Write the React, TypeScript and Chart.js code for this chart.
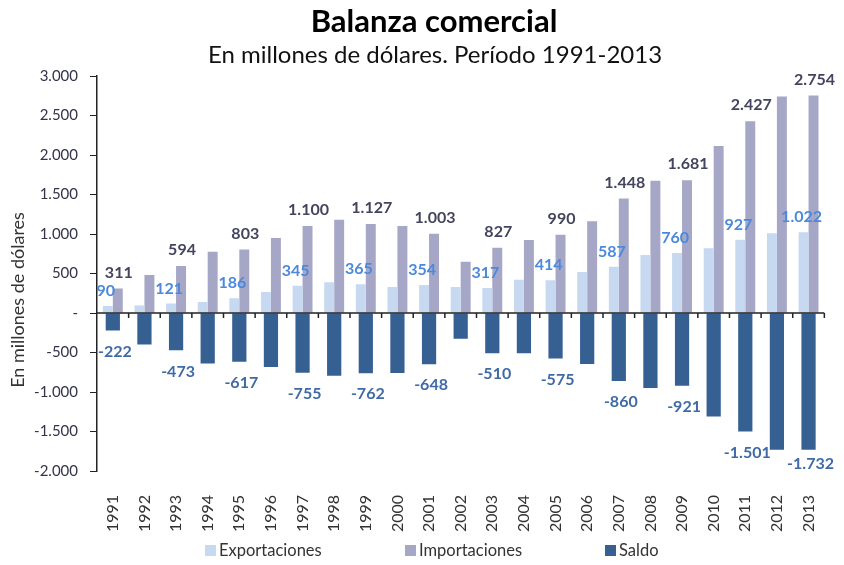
import React, { useEffect, useRef } from "react";
import { Chart, registerables } from "chart.js";

Chart.register(...registerables);

const years = ["1991","1992","1993","1994","1995","1996","1997","1998","1999","2000","2001","2002","2003","2004","2005","2006","2007","2008","2009","2010","2011","2012","2013"];
const exportaciones = [90,95,121,140,186,265,345,390,365,330,354,330,317,420,414,520,587,735,760,820,927,1010,1022];
const importaciones = [311,480,594,775,803,950,1100,1180,1127,1100,1003,650,827,925,990,1160,1448,1675,1681,2115,2427,2740,2754];
const saldo = [-222,-400,-473,-640,-617,-685,-755,-795,-762,-760,-648,-325,-510,-510,-575,-645,-860,-950,-921,-1310,-1501,-1730,-1732];
const seriesNames = ["Exportaciones", "Importaciones", "Saldo"];
const titleText = "Balanza comercial";
const subtitleText = "En millones de dólares. Período 1991-2013";
const yTitleText = "En millones de dólares";
const yMin = -2000;
const yMax = 3000;
const yStep = 500;

const colExp = "#C6D9F1";
const colImp = "#A6A6C6";
const colSal = "#366092";
const labelColors = ["#4A89DC", "#44445E", "#3F6AA6"];
const FONT = "Lato, 'Open Sans', sans-serif";

function fmt(v: number): string {
  if (v === 0) return "-";
  const neg = v < 0;
  const s = Math.abs(Math.round(v)).toString().replace(/\B(?=(\d{3})+(?!\d))/g, ".");
  return (neg ? "-" : "") + s;
}

const labelPlugin = {
  id: "valueLabels",
  afterDatasetsDraw(chart: any) {
    const ctx = chart.ctx;
    const area = chart.chartArea;
    ctx.save();
    ctx.font = `bold 16px ${FONT}`;
    ctx.textAlign = "center";
    ctx.textBaseline = "middle";
    chart.data.datasets.forEach((ds: any, di: number) => {
      const meta = chart.getDatasetMeta(di);
      meta.data.forEach((bar: any, i: number) => {
        if (i % 2 !== 0) return;
        const v = ds.data[i];
        ctx.fillStyle = labelColors[di];
        let x = bar.x;
        let y = bar.y;
        if (di === 0) { x -= 2; y -= 15; }
        else if (di === 1) { x += 1; y -= 16; }
        else { x += 2; y = Math.min(y + 21, area.bottom - 7); }
        ctx.fillText(fmt(v), x, y);
      });
    });
    ctx.restore();
  },
};

const axisPlugin = {
  id: "zeroAxis",
  afterDatasetsDraw(chart: any) {
    const ctx = chart.ctx;
    const area = chart.chartArea;
    const ys = chart.scales.y;
    const xs = chart.scales.x;
    const y0 = ys.getPixelForValue(0);
    ctx.save();
    ctx.strokeStyle = "#222";
    ctx.lineWidth = 1.5;
    ctx.beginPath();
    ctx.moveTo(area.left, y0);
    ctx.lineTo(area.right, y0);
    const n = xs.ticks.length;
    const w = (area.right - area.left) / n;
    for (let k = 1; k <= n; k++) {
      const x = area.left + k * w;
      ctx.moveTo(x, y0);
      ctx.lineTo(x, y0 + 5);
    }
    ctx.stroke();
    ctx.restore();
  },
};

const decorPlugin = {
  id: "decor",
  afterDraw(chart: any) {
    const ctx = chart.ctx;
    // titles
    ctx.save();
    ctx.textAlign = "center";
    ctx.textBaseline = "middle";
    ctx.fillStyle = "#000";
    ctx.font = `bold 31px ${FONT}`;
    ctx.fillText(titleText, 434, 22);
    ctx.fillStyle = "#111";
    ctx.font = `24px ${FONT}`;
    ctx.fillText(subtitleText, 435, 55);
    ctx.restore();

    // y axis title
    ctx.save();
    ctx.translate(18, 300);
    ctx.rotate(-Math.PI / 2);
    ctx.font = `18px ${FONT}`;
    ctx.fillStyle = "#333";
    ctx.textAlign = "center";
    ctx.textBaseline = "middle";
    ctx.fillText(yTitleText, 0, 0);
    ctx.restore();

    // legend
    ctx.save();
    const colors = [colExp, colImp, colSal];
    ctx.font = `16.5px ${FONT}`;
    ctx.textBaseline = "middle";
    ctx.textAlign = "left";
    const ly = chart.height - 14;
    seriesNames.forEach((name, i) => {
      const bx = 205 + i * 200;
      ctx.fillStyle = colors[i];
      ctx.fillRect(bx, ly - 6, 11, 11);
      ctx.fillStyle = "#333";
      ctx.fillText(name, bx + 14, ly);
    });
    ctx.restore();
  },
};

export default function App() {
  const ref = useRef<HTMLCanvasElement>(null);
  useEffect(() => {
    if (!ref.current) return;
    const chart = new Chart(ref.current, {
      type: "bar",
      data: {
        labels: years,
        datasets: [
          { label: seriesNames[0], data: exportaciones, backgroundColor: colExp, categoryPercentage: 0.63, barPercentage: 1 },
          { label: seriesNames[1], data: importaciones, backgroundColor: colImp, categoryPercentage: 0.63, barPercentage: 1 },
          { label: seriesNames[2], data: saldo, backgroundColor: colSal, grouped: false, categoryPercentage: 0.45, barPercentage: 1 },
        ],
      },
      options: {
        responsive: false,
        animation: false,
        devicePixelRatio: 1,
        layout: { padding: { top: 76, right: 12, bottom: 32, left: 0 } },
        plugins: {
          legend: { display: false },
          tooltip: { enabled: false },
          title: { display: false },
        },
        scales: {
          x: {
            type: "category",
            grid: { display: false },
            border: { display: false },
            ticks: {
              minRotation: 90,
              maxRotation: 90,
              padding: 16,
              color: "#333",
              font: { family: FONT, size: 16 },
            },
            afterFit: (s: any) => { s.height = 62; },
          },
          y: {
            min: yMin,
            max: yMax,
            grid: { drawOnChartArea: false, drawTicks: true, tickLength: 7, color: "#222" },
            border: { display: true, color: "#222", width: 1.5 },
            ticks: {
              stepSize: yStep,
              padding: 12,
              color: "#33334a",
              font: { family: FONT, size: 15 },
              callback: (v: any) => fmt(Number(v)),
            },
            afterFit: (s: any) => { s.width = 97; },
          },
        },
      },
      plugins: [axisPlugin, labelPlugin, decorPlugin],
    } as any);
    return () => chart.destroy();
  }, []);
  return (
    <div style={{ position: "fixed", left: 0, top: 0, width: 844, height: 565, background: "#fff" }}>
      <canvas ref={ref} width={844} height={565} style={{ width: 844, height: 565 }} />
    </div>
  );
}
